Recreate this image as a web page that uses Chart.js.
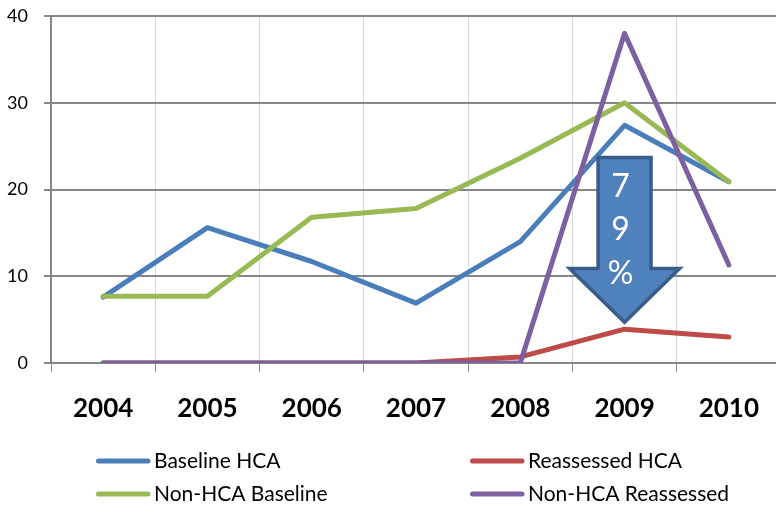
<!DOCTYPE html>
<html>
<head>
<meta charset="utf-8">
<script src="https://cdn.jsdelivr.net/npm/chart.js@4"></script>
<style>
  html, body { margin: 0; padding: 0; overflow: hidden; background: #fff; width: 776px; height: 505px; }
  #wrap { width: 781px; height: 505px; }
</style>
</head>
<body>
<div id="wrap"><canvas id="c" width="781" height="505"></canvas></div>
<script>
// Categories and series
const years = ['2004', '2005', '2006', '2007', '2008', '2009', '2010'];
const baselineHCA      = [7.6, 15.6, 11.7, 6.9, 14.0, 27.4, 20.9];
const reassessedHCA    = [0, 0, 0, 0, 0.7, 3.9, 3.0];
const nonHCABaseline   = [7.7, 7.7, 16.8, 17.8, 23.6, 30.0, 20.9];
const nonHCAReassessed = [0, 0, 0, 0, 0, 38.0, 11.3];
const seriesNames = ['Baseline HCA', 'Reassessed HCA', 'Non-HCA Baseline', 'Non-HCA Reassessed'];
const yMin = 0, yMax = 40, yStep = 10;
// Callout drawn over the 2009 category
const calloutLines = ['7', '9', '%'];

const COLORS = ['#4a7ebb', '#be4b48', '#98b954', '#7d60a0'];
const FONT = 'Lato, "Liberation Sans", sans-serif';

function lineSet(label, data, color, order) {
  return {
    label, data, order,
    borderColor: color, backgroundColor: color,
    borderWidth: 5, pointRadius: 0, pointHoverRadius: 0,
    tension: 0, fill: false,
    borderCapStyle: 'round', borderJoinStyle: 'round'
  };
}

// Down arrow with stacked text, anchored to the 2009 category
const arrowPlugin = {
  id: 'arrowCallout',
  afterDatasetsDraw(chart) {
    const { ctx, scales: { x, y } } = chart;
    const cx = x.getPixelForValue(5);
    const top = y.getPixelForValue(23.7);
    const neck = y.getPixelForValue(10.9);
    const tip = y.getPixelForValue(4.7);
    const bw = 26.5, hw = 55;
    ctx.save();
    ctx.beginPath();
    ctx.moveTo(cx - bw, top);
    ctx.lineTo(cx + bw, top);
    ctx.lineTo(cx + bw, neck);
    ctx.lineTo(cx + hw, neck);
    ctx.lineTo(cx, tip);
    ctx.lineTo(cx - hw, neck);
    ctx.lineTo(cx - bw, neck);
    ctx.closePath();
    ctx.fillStyle = '#4f81bd';
    ctx.fill();
    ctx.lineWidth = 3.5;
    ctx.lineJoin = 'miter';
    ctx.strokeStyle = '#385d8a';
    ctx.stroke();
    ctx.fillStyle = '#ffffff';
    ctx.font = '32px ' + FONT;
    ctx.textAlign = 'center';
    ctx.textBaseline = 'middle';
    calloutLines.forEach((t, i) => ctx.fillText(t, cx - 4, top + 29 + i * 43.5));
    ctx.restore();
  }
};

// Two-column legend below the axis
const legendPlugin = {
  id: 'gridLegend',
  afterDraw(chart) {
    const { ctx } = chart;
    const cols = [96, 470];
    const rows = [461, 494];
    ctx.save();
    ctx.font = '21px ' + FONT;
    ctx.textBaseline = 'middle';
    ctx.textAlign = 'left';
    chart.data.datasets.forEach((ds, i) => {
      const lx = cols[i % 2], ly = rows[Math.floor(i / 2)];
      ctx.beginPath();
      ctx.moveTo(lx + 2.5, ly);
      ctx.lineTo(lx + 52, ly);
      ctx.lineWidth = 5;
      ctx.lineCap = 'round';
      ctx.strokeStyle = ds.borderColor;
      ctx.stroke();
      ctx.fillStyle = '#000';
      ctx.fillText(ds.label, lx + 58, ly);
    });
    ctx.restore();
  }
};

new Chart(document.getElementById('c'), {
  type: 'line',
  data: {
    labels: years,
    datasets: [
      lineSet(seriesNames[0], baselineHCA, COLORS[0], 4),
      lineSet(seriesNames[1], reassessedHCA, COLORS[1], 3),
      lineSet(seriesNames[2], nonHCABaseline, COLORS[2], 2),
      lineSet(seriesNames[3], nonHCAReassessed, COLORS[3], 1)
    ]
  },
  options: {
    responsive: false,
    animation: false,
    devicePixelRatio: 1,
    layout: { padding: { top: 16, left: 0, right: 0, bottom: 0 } },
    plugins: { legend: { display: false }, tooltip: { enabled: false } },
    scales: {
      x: {
        offset: true,
        grid: { offset: true, color: '#d9d9d9', lineWidth: 1, tickColor: '#868686', tickLength: 9, drawTicks: true },
        border: { color: '#868686', width: 2 },
        ticks: { color: '#000', font: { family: FONT, size: 26, weight: 'bold' }, padding: 21, maxRotation: 0 },
        afterFit(s) { s.height = 142; }
      },
      y: {
        min: yMin, max: yMax,
        grid: { color: '#878787', lineWidth: 2, tickColor: '#868686', tickLength: 7 },
        border: { color: '#868686', width: 2 },
        ticks: { stepSize: yStep, color: '#000', font: { family: FONT, size: 18 }, padding: 16 },
        afterFit(s) { s.width = 51; s.paddingTop = 0; s.paddingBottom = 0; }
      }
    }
  },
  plugins: [arrowPlugin, legendPlugin]
});
</script>
</body>
</html>
